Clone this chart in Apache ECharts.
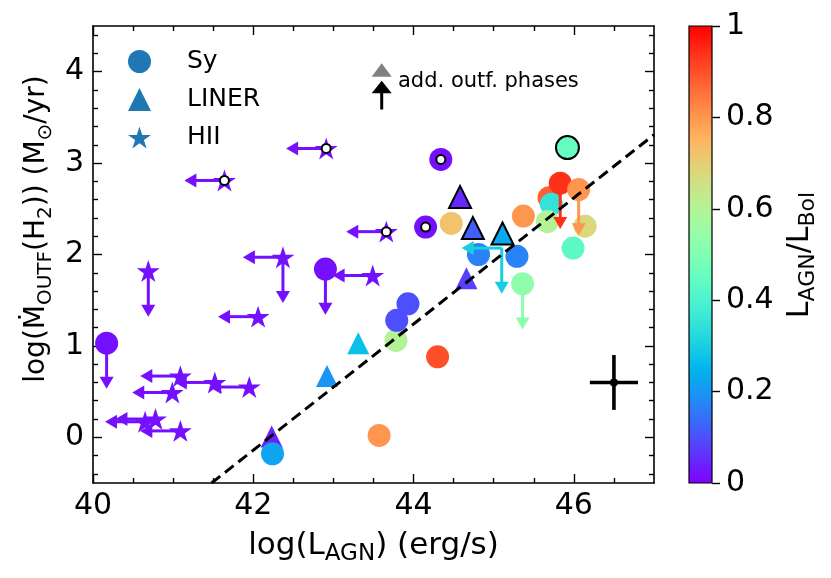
<!DOCTYPE html>
<html>
<head>
<meta charset="utf-8">
<script src="https://cdn.jsdelivr.net/npm/echarts@6.0.0/dist/echarts.min.js"></script>
<style>html,body{margin:0;padding:0;background:#fff}#c{width:831px;height:578px}</style>
</head>
<body>
<div id="c"></div>
<script>
// ---------- data ----------
// Seyferts (circles)
const syX = [40.17, 42.90, 42.24, 43.57, 44.30, 43.78, 43.79, 43.93, 44.81, 45.29, 45.36, 45.37, 44.47, 44.15, 44.34, 45.92, 45.69, 45.72, 45.67, 45.83, 46.06, 46.14, 45.99];
const syY = [1.03, 1.84, -0.18, 0.02, 0.88, 1.06, 1.28, 1.46, 2.00, 1.98, 1.68, 2.42, 2.34, 2.30, 3.04, 3.17, 2.62, 2.55, 2.36, 2.78, 2.71, 2.31, 2.07];
const syF = [0.02, 0.02, 0.22, 0.80, 0.90, 0.60, 0.10, 0.10, 0.17, 0.17, 0.53, 0.80, 0.72, 0.02, 0.02, 0.45, 0.88, 0.35, 0.60, 0.94, 0.80, 0.68, 0.43];
const syLim = ['down','down','','','','','','','','','down','','','','','','','','','down','down','',''];
const syMark = ['','','','','','','','','','','','','','ring','ring','edge','','','','','','',''];
// LINERs (triangles)
const linX = [42.23, 42.92, 43.31, 44.66, 44.58, 44.74, 45.11];
const linY = [0.01, 0.67, 1.03, 1.74, 2.63, 2.29, 2.23];
const linF = [0.04, 0.20, 0.27, 0.08, 0.05, 0.12, 0.23];
const linLim = ['','','','','','',''];
const linMark = ['','','','','edge','edge','edge'];
// HII (stars)
const hiiX = [42.91, 41.64, 43.66, 40.69, 42.37, 42.06, 43.49, 41.09, 41.52, 41.95, 40.99, 40.65, 40.78, 41.09];
const hiiY = [3.16, 2.81, 2.25, 1.82, 1.97, 1.32, 1.77, 0.67, 0.60, 0.55, 0.49, 0.17, 0.20, 0.07];
const hiiF = [0.02, 0.02, 0.02, 0.02, 0.02, 0.02, 0.02, 0.02, 0.02, 0.02, 0.02, 0.02, 0.02, 0.02];
const hiiLim = ['left','left','left','down','leftdown','left','left','left','left','left','left','left','left','left'];
const hiiMark = ['ring','ring','ring','','','','','','','','','','',''];
// limit-only entry (marker hidden)
const limX = [45.10];
const limY = [2.07];
const limF = [0.30];
const limDir = ['leftdown'];
const arrowLen = 0.5;
// fit line
const fitX = [41.48, 47.0];
const fitY = [-0.5, 3.31];
// typical error
const errX = [46.5], errY = [0.6], errDx = [0.3], errDy = [0.3];
// ticks
const xMajor = [40, 42, 44, 46];
const xMinor = [40.5, 41, 41.5, 42.5, 43, 43.5, 44.5, 45, 45.5, 46.5];
const yMajor = [0, 1, 2, 3, 4];
const yMinor = [-0.4, -0.2, 0.2, 0.4, 0.6, 0.8, 1.2, 1.4, 1.6, 1.8, 2.2, 2.4, 2.6, 2.8, 3.2, 3.4, 3.6, 3.8, 4.2, 4.4];
const cbTicks = [0, 0.2, 0.4, 0.6, 0.8, 1];

// ---------- style helpers ----------
const FONT = 'DejaVu Sans';
function rainbow(t) {
  const r = Math.min(1, Math.abs(2 * t - 0.5));
  const g = Math.sin(Math.PI * t);
  const b = Math.max(0, Math.cos(Math.PI * t / 2));
  const h = v => Math.round(Math.max(0, Math.min(1, v)) * 255);
  return 'rgb(' + h(r) + ',' + h(g) + ',' + h(b) + ')';
}
function starPath() {
  let s = 'path://';
  for (let k = 0; k < 10; k++) {
    const a = -Math.PI / 2 + k * Math.PI / 5;
    const rr = k % 2 === 0 ? 100 : 38.2;
    s += (k === 0 ? 'M' : 'L') + (rr * Math.cos(a)).toFixed(2) + ' ' + (rr * Math.sin(a)).toFixed(2) + ' ';
  }
  return s + 'Z';
}
const STAR = starPath();

function pts(X, Y, F, M) {
  return X.map((x, i) => ({
    value: [x, Y[i]],
    itemStyle: {
      color: rainbow(F[i]),
      borderColor: M[i] === 'edge' ? '#000' : rainbow(F[i]),
      borderWidth: M[i] === 'edge' ? 2 : 0
    }
  }));
}
function arrows(X, Y, F, L) {
  const out = [];
  X.forEach((x, i) => {
    if (L[i].indexOf('left') >= 0) out.push([x, Y[i], x - arrowLen, Y[i], F[i]]);
    if (L[i].indexOf('down') >= 0) out.push([x, Y[i], x, Y[i] - arrowLen, F[i]]);
  });
  return out;
}
function rings(X, Y, M) {
  const out = [];
  X.forEach((x, i) => { if (M[i] === 'ring') out.push([x, Y[i]]); });
  return out;
}
const arrowData = [].concat(
  arrows(syX, syY, syF, syLim),
  arrows(linX, linY, linF, linLim),
  arrows(hiiX, hiiY, hiiF, hiiLim),
  arrows(limX, limY, limF, limDir)
);
const ringData = [].concat(rings(syX, syY, syMark), rings(hiiX, hiiY, hiiMark));

function arrowItem(params, api) {
  const p0 = api.coord([api.value(0), api.value(1)]);
  const p1 = api.coord([api.value(2), api.value(3)]);
  const color = rainbow(api.value(4));
  const dx = p1[0] - p0[0], dy = p1[1] - p0[1];
  const L = Math.hypot(dx, dy) || 1;
  const ux = dx / L, uy = dy / L;
  const hl = 12, hw = 7;
  const bx = p1[0] - ux * hl, by = p1[1] - uy * hl;
  return {
    type: 'group',
    children: [
      { type: 'line', shape: { x1: p0[0], y1: p0[1], x2: bx + ux, y2: by + uy }, style: { stroke: color, lineWidth: 3 } },
      { type: 'polygon', shape: { points: [[p1[0], p1[1]], [bx - uy * hw, by + ux * hw], [bx + uy * hw, by - ux * hw]] }, style: { fill: color } }
    ]
  };
}
function errItem(params, api) {
  const c = api.coord([api.value(0), api.value(1)]);
  const l = api.coord([api.value(0) - api.value(2), api.value(1)]);
  const r = api.coord([api.value(0) + api.value(2), api.value(1)]);
  const t = api.coord([api.value(0), api.value(1) + api.value(3)]);
  const b = api.coord([api.value(0), api.value(1) - api.value(3)]);
  return {
    type: 'group',
    children: [
      { type: 'line', shape: { x1: l[0], y1: l[1], x2: r[0], y2: r[1] }, style: { stroke: '#000', lineWidth: 3.6 } },
      { type: 'line', shape: { x1: t[0], y1: t[1], x2: b[0], y2: b[1] }, style: { stroke: '#000', lineWidth: 3.6 } },
      { type: 'circle', shape: { cx: c[0], cy: c[1], r: 4 }, style: { fill: '#000' } }
    ]
  };
}
const cbStops = [];
for (let i = 0; i <= 40; i++) cbStops.push({ offset: i / 40, color: rainbow(i / 40) });
function cbItem(params, api) {
  const p0 = api.coord([0, 1]);
  const p1 = api.coord([1, 0]);
  return {
    type: 'rect',
    shape: { x: p0[0], y: p0[1], width: p1[0] - p0[0], height: p1[1] - p0[1] },
    style: { fill: new echarts.graphic.LinearGradient(0, 1, 0, 0, cbStops), stroke: '#000', lineWidth: 1.2 }
  };
}

function mainAxis(pos, major, isX, withLabel, showLine) {
  return {
    type: 'value', gridIndex: 0, position: pos,
    min: isX ? 40 : -0.5, max: isX ? 47 : 4.5,
    axisLine: { show: showLine, onZero: false, lineStyle: { color: '#000', width: 1.6 } },
    axisTick: { show: true, inside: true, length: major ? 9 : 5, customValues: major ? (isX ? xMajor : yMajor) : (isX ? xMinor : yMinor), lineStyle: { color: '#000', width: 1.4 } },
    axisLabel: withLabel ? { show: true, customValues: isX ? xMajor : yMajor, fontSize: 30, fontFamily: FONT, color: '#000', margin: isX ? 8 : 9 } : { show: false },
    splitLine: { show: false }, minorTick: { show: false }
  };
}

const xAxes = [
  Object.assign(mainAxis('bottom', true, true, true, true), {
    name: 'log(L{s|AGN}) (erg/s)', nameLocation: 'middle', nameGap: 40,
    nameTextStyle: { fontSize: 31, lineHeight: 40, fontFamily: FONT, color: '#000',
      rich: { s: { fontSize: 23, lineHeight: 22, verticalAlign: 'bottom', fontFamily: FONT, color: '#000' } } }
  }),
  mainAxis('bottom', false, true, false, false),
  mainAxis('top', true, true, false, true),
  mainAxis('top', false, true, false, false),
  { type: 'value', gridIndex: 1, min: 0, max: 1, show: false }
];
const yAxes = [
  mainAxis('left', true, false, true, true),
  mainAxis('left', false, false, false, false),
  mainAxis('right', true, false, false, true),
  mainAxis('right', false, false, false, false),
  {
    type: 'value', gridIndex: 1, position: 'right', min: 0, max: 1,
    axisLine: { show: false, onZero: false },
    axisTick: { show: true, inside: false, length: 8, customValues: cbTicks, lineStyle: { color: '#000', width: 1.4 } },
    axisLabel: { show: true, customValues: cbTicks, fontSize: 30, fontFamily: FONT, color: '#000', margin: 14 },
    splitLine: { show: false }
  }
];

const option = {
  animation: false,
  backgroundColor: '#fff',
  grid: [
    { left: 93, right: 177, top: 26, bottom: 95 },
    { left: 689, width: 23, top: 26, bottom: 95 }
  ],
  xAxis: xAxes,
  yAxis: yAxes,
  legend: {
    show: true, orient: 'vertical', left: 123, top: 44,
    itemWidth: 23, itemHeight: 23, itemGap: 13, selectedMode: false,
    data: ['Sy', 'LINER', 'HII'],
    textStyle: { fontSize: 25, fontFamily: FONT, color: '#000', lineHeight: 23, padding: [0, 0, 0, 31] }
  },
  series: [
    { name: 'LINER', type: 'scatter', xAxisIndex: 0, yAxisIndex: 0, symbol: 'triangle', symbolSize: 22, z: 2,
      itemStyle: { color: '#1f77b4', opacity: 1 }, emphasis: { disabled: true }, silent: true,
      data: pts(linX, linY, linF, linMark) },
    { name: 'Sy', type: 'scatter', xAxisIndex: 0, yAxisIndex: 0, symbol: 'circle', symbolSize: 23, z: 3,
      itemStyle: { color: '#1f77b4', opacity: 1 }, emphasis: { disabled: true }, silent: true,
      data: pts(syX, syY, syF, syMark) },
    { name: 'HII', type: 'scatter', xAxisIndex: 0, yAxisIndex: 0, symbol: STAR, symbolKeepAspect: true, symbolSize: 23, z: 3,
      itemStyle: { color: '#1f77b4', opacity: 1 }, emphasis: { disabled: true }, silent: true,
      data: pts(hiiX, hiiY, hiiF, hiiMark) },
    { name: 'limits', type: 'custom', xAxisIndex: 0, yAxisIndex: 0, z: 4, silent: true,
      renderItem: arrowItem, data: arrowData },
    { name: 'rings', type: 'scatter', xAxisIndex: 0, yAxisIndex: 0, symbol: 'circle', symbolSize: 9, z: 5, silent: true,
      itemStyle: { color: '#fff', borderColor: '#000', borderWidth: 2, opacity: 1 }, emphasis: { disabled: true },
      data: ringData },
    { name: 'fit', type: 'line', xAxisIndex: 0, yAxisIndex: 0, z: 6, silent: true, symbol: 'none',
      lineStyle: { color: '#000', width: 3, type: [11, 6] },
      data: fitX.map((x, i) => [x, fitY[i]]) },
    { name: 'err', type: 'custom', xAxisIndex: 0, yAxisIndex: 0, z: 6, silent: true,
      renderItem: errItem, data: errX.map((x, i) => [x, errY[i], errDx[i], errDy[i]]) },
    { name: 'colorbar', type: 'custom', xAxisIndex: 4, yAxisIndex: 4, silent: true,
      renderItem: cbItem, data: [[0, 0]] }
  ],
  graphic: [
    { type: 'polygon', shape: { points: [[371.7, 76.7], [391.7, 76.7], [381.7, 63.3]] }, style: { fill: '#808080' }, silent: true },
    { type: 'polygon', shape: { points: [[371.7, 93.3], [391.7, 93.3], [381.7, 80.7]] }, style: { fill: '#000' }, silent: true },
    { type: 'line', shape: { x1: 381.7, y1: 92, x2: 381.7, y2: 109.5 }, style: { stroke: '#000', lineWidth: 3 }, silent: true },
    { type: 'text', x: 398, y: 82, silent: true,
      style: { text: 'add. outf. phases', fontSize: 21, fontFamily: FONT, fill: '#000', align: 'left', verticalAlign: 'middle' } },
    { type: 'text', x: 37, y: 229, rotation: Math.PI / 2, silent: true,
      style: { text: 'log(Ṁ{s|OUTF}(H{s|2})) (M{s|⊙}/yr)', fontSize: 28, lineHeight: 37, fontFamily: FONT, fill: '#000',
        align: 'center', verticalAlign: 'middle', rich: { s: { fontSize: 20, lineHeight: 20, verticalAlign: 'bottom', fontFamily: FONT, fill: '#000' } } } },
    { type: 'text', x: 800, y: 255, rotation: Math.PI / 2, silent: true,
      style: { text: 'L{s|AGN}/L{s|Bol}', fontSize: 30, lineHeight: 39, fontFamily: FONT, fill: '#000',
        align: 'center', verticalAlign: 'middle', rich: { s: { fontSize: 22, lineHeight: 21, verticalAlign: 'bottom', fontFamily: FONT, fill: '#000' } } } }
  ]
};
const chart = echarts.init(document.getElementById('c'), null, { renderer: 'canvas' });
chart.setOption(option);
</script>
</body>
</html>
